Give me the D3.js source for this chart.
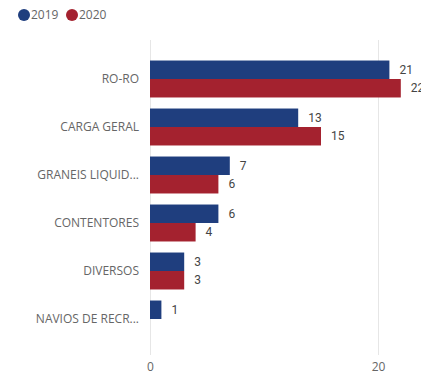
<!DOCTYPE html>
<html>
<head>
<meta charset="utf-8">
<script src="https://cdn.jsdelivr.net/npm/d3@7"></script>
<style>
	body { margin: 0; background: #fff; }
	svg { display: block; }
</style>
</head>
<body>
<svg id="chart" width="421" height="376"></svg>
<script>
const CATEGORIES = ["RO-RO", "CARGA GERAL", "GRANEIS LIQUID...", "CONTENTORES", "DIVERSOS", "NAVIOS DE RECR..."];
const SERIES = ["2019", "2020"];
const VALUES_2019 = [21, 13, 7, 6, 3, 1];
const VALUES_2020 = [22, 15, 6, 4, 3, null];
const X_TICKS = [0, 20];
const COLORS = ["#1f3e7e", "#a4222f"];

const svg = d3.select("#chart");
const FONT = "'Open Sans', 'Noto Sans', sans-serif";

let x = d3.scaleLinear()
	.domain([0, 25])
	.range([150, 435]);

let y0 = d3.scaleBand()
	.domain(CATEGORIES)
	.range([55, 343])
	.paddingInner(0.23)
	.paddingOuter(0.115);

let y1 = d3.scaleBand()
	.domain(SERIES)
	.range([0, y0.bandwidth()]);

let z = d3.scaleOrdinal().domain(SERIES).range(COLORS);

// gridlines + tick labels
let axis = svg.append("g")
	.attr("transform", "translate(0,355)")
	.call(d3.axisBottom(x).tickValues(X_TICKS).tickSize(-315).tickFormat(d3.format("d")));
axis.select(".domain").remove();
axis.selectAll(".tick line").attr("stroke", "#e6e6e6");
axis.selectAll(".tick text")
	.attr("y", 7)
	.attr("font-family", FONT)
	.attr("font-size", 12)
	.attr("fill", "#666");

// category labels
svg.append("g")
	.selectAll("text")
	.data(CATEGORIES)
	.enter().append("text")
	.attr("x", 139)
	.attr("y", (d) => y0(d) + y0.bandwidth() / 2)
	.attr("dy", "0.35em")
	.attr("text-anchor", "end")
	.attr("font-family", FONT)
	.attr("font-size", 12)
	.attr("fill", "#666")
	.text((d) => d);

let rows = CATEGORIES.map((c, i) => ({
	key: c,
	values: [
		{ s: "2019", v: VALUES_2019[i] },
		{ s: "2020", v: VALUES_2020[i] }
	].filter((d) => d.v != null)
}));

let groups = svg.append("g")
	.selectAll("g")
	.data(rows)
	.enter().append("g")
	.attr("transform", (d) => "translate(0," + y0(d.key) + ")");

groups.selectAll("rect")
	.data((d) => d.values)
	.enter().append("rect")
	.attr("x", x(0))
	.attr("y", (d) => y1(d.s))
	.attr("width", (d) => x(d.v) - x(0))
	.attr("height", y1.bandwidth())
	.attr("fill", (d) => z(d.s));

groups.selectAll("text")
	.data((d) => d.values)
	.enter().append("text")
	.attr("x", (d) => x(d.v) + 10)
	.attr("y", (d) => y1(d.s) + y1.bandwidth() / 2)
	.attr("dy", "0.35em")
	.attr("font-family", "'Roboto', sans-serif")
	.attr("font-size", 12)
	.attr("fill", "#444")
	.text((d) => d.v);

// legend
let legend = svg.append("g")
	.selectAll("g")
	.data(SERIES)
	.enter().append("g")
	.attr("transform", (d, i) => "translate(" + (24 + i * 48) + ",15)");

legend.append("circle")
	.attr("r", 6)
	.attr("fill", (d) => z(d));

legend.append("text")
	.attr("x", 7)
	.attr("dy", "0.35em")
	.attr("font-family", FONT)
	.attr("font-size", 12)
	.attr("fill", "#666")
	.text((d) => d);
</script>
</body>
</html>
